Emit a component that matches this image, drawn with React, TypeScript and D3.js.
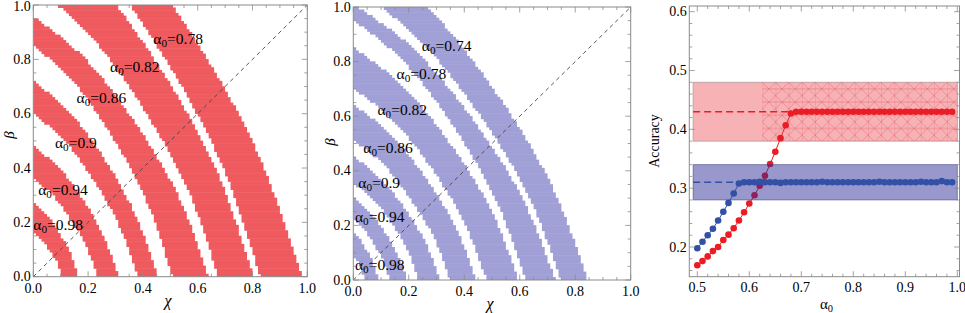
import React from 'react';
import * as d3 from 'd3';

// ---------- Panel 1 (red regions) : boundary points [chi, beta] ----------
const leftLabels = ['0.78', '0.82', '0.86', '0.9', '0.94', '0.98'];
const leftOuter: number[][][] = [
  [[0.98, 0], [0.818, 0.458], [0.562, 0.916], [0.273, 1.298], [0, 1.527]],
  [[0.803, 0], [0.671, 0.386], [0.46, 0.771], [0.224, 1.092], [0, 1.285]],
  [[0.639, 0], [0.534, 0.287], [0.366, 0.574], [0.178, 0.813], [0, 0.957]],
  [[0.453, 0], [0.378, 0.216], [0.26, 0.432], [0.126, 0.612], [0, 0.72]],
  [[0.31, 0], [0.259, 0.144], [0.178, 0.288], [0.086, 0.408], [0, 0.48]],
  [[0.164, 0], [0.137, 0.081], [0.094, 0.162], [0.046, 0.23], [0, 0.27]],
];
const leftInner: number[][][] = [
  [[0.828, 0], [0.691, 0.407], [0.474, 0.814], [0.231, 1.153], [0, 1.357]],
  [[0.675, 0], [0.564, 0.321], [0.387, 0.642], [0.188, 0.91], [0, 1.07]],
  [[0.507, 0], [0.423, 0.256], [0.291, 0.511], [0.141, 0.724], [0, 0.852]],
  [[0.38, 0], [0.317, 0.18], [0.218, 0.36], [0.106, 0.51], [0, 0.6]],
  [[0.234, 0], [0.195, 0.108], [0.134, 0.216], [0.065, 0.306], [0, 0.36]],
  [[0.106, 0], [0.089, 0.048], [0.061, 0.096], [0.03, 0.136], [0, 0.16]],
];
const leftLabelX = [0.438, 0.28, 0.158, 0.079, 0.018, 0.0];
const leftLabelY = [0.856, 0.754, 0.638, 0.473, 0.3, 0.172];

// ---------- Panel 2 (blue regions) ----------
const midLabels = ['0.74', '0.78', '0.82', '0.86', '0.9', '0.94', '0.98'];
const midOuter: number[][][] = [
  [[0.846, 0], [0.706, 0.364], [0.485, 0.728], [0.236, 1.032], [0, 1.214]],
  [[0.728, 0], [0.608, 0.303], [0.417, 0.606], [0.203, 0.859], [0, 1.01]],
  [[0.595, 0], [0.497, 0.255], [0.341, 0.51], [0.166, 0.723], [0, 0.85]],
  [[0.443, 0], [0.37, 0.192], [0.254, 0.384], [0.124, 0.544], [0, 0.64]],
  [[0.312, 0], [0.261, 0.135], [0.179, 0.27], [0.087, 0.383], [0, 0.45]],
  [[0.194, 0], [0.162, 0.09], [0.111, 0.18], [0.054, 0.255], [0, 0.3]],
  [[0.09, 0], [0.075, 0.051], [0.052, 0.102], [0.025, 0.145], [0, 0.17]],
];
const midInner: number[][][] = [
  [[0.75, 0], [0.626, 0.321], [0.43, 0.642], [0.209, 0.91], [0, 1.07]],
  [[0.62, 0], [0.518, 0.286], [0.355, 0.572], [0.173, 0.81], [0, 0.953]],
  [[0.48, 0], [0.401, 0.21], [0.275, 0.42], [0.134, 0.595], [0, 0.7]],
  [[0.35, 0], [0.292, 0.153], [0.2, 0.306], [0.098, 0.434], [0, 0.51]],
  [[0.235, 0], [0.196, 0.107], [0.135, 0.213], [0.066, 0.302], [0, 0.355]],
  [[0.13, 0], [0.109, 0.066], [0.074, 0.132], [0.036, 0.187], [0, 0.22]],
  [[0.04, 0], [0.033, 0.026], [0.023, 0.051], [0.011, 0.072], [0, 0.085]],
];
const midLabelX = [0.247, 0.156, 0.087, 0.036, 0.018, 0.006, 0.006];
const midLabelY = [0.837, 0.736, 0.605, 0.467, 0.336, 0.214, 0.037];

const unitTickLabels = ['0.0', '0.2', '0.4', '0.6', '0.8', '1.0'];

// ---------- Panel 3 (accuracy vs alpha0) ----------
const alpha0 = [
  0.5, 0.51, 0.52, 0.53, 0.54, 0.55, 0.56, 0.57, 0.58, 0.59,
  0.6, 0.61, 0.62, 0.63, 0.64, 0.65, 0.66, 0.67, 0.68, 0.69,
  0.7, 0.71, 0.72, 0.73, 0.74, 0.75, 0.76, 0.77, 0.78, 0.79,
  0.8, 0.81, 0.82, 0.83, 0.84, 0.85, 0.86, 0.87, 0.88, 0.89,
  0.9, 0.91, 0.92, 0.93, 0.94, 0.95, 0.96, 0.97, 0.98, 0.99,
];
const blueAcc = [
  0.198, 0.209, 0.22, 0.231, 0.245, 0.26, 0.275, 0.291, 0.308, 0.31,
  0.31, 0.31, 0.311, 0.31, 0.31, 0.31, 0.309, 0.31, 0.31, 0.31,
  0.31, 0.31, 0.31, 0.31, 0.311, 0.31, 0.31, 0.31, 0.31, 0.31,
  0.31, 0.31, 0.31, 0.31, 0.31, 0.311, 0.31, 0.31, 0.31, 0.31,
  0.31, 0.31, 0.31, 0.311, 0.31, 0.31, 0.31, 0.312, 0.31, 0.31,
];
const redAcc = [
  0.169, 0.176, 0.184, 0.193, 0.2, 0.212, 0.221, 0.232, 0.245, 0.259,
  0.274, 0.288, 0.304, 0.321, 0.341, 0.362, 0.385, 0.407, 0.427, 0.43,
  0.43, 0.43, 0.43, 0.43, 0.43, 0.43, 0.43, 0.43, 0.43, 0.43,
  0.43, 0.43, 0.43, 0.43, 0.43, 0.43, 0.43, 0.43, 0.43, 0.43,
  0.43, 0.43, 0.43, 0.43, 0.43, 0.43, 0.43, 0.43, 0.43, 0.43,
];
const redBand = [0.38, 0.48];
const blueBand = [0.28, 0.34];
const redMean = 0.43;
const blueMean = 0.31;
const bandStart = 0.492;
const hatchStart = 0.625;
const accXTicks = [0.5, 0.6, 0.7, 0.8, 0.9, 1.0];
const accXTickLabels = ['0.5', '0.6', '0.7', '0.8', '0.9', '1.0'];
const accYTicks = [0.2, 0.3, 0.4, 0.5, 0.6];
const accYTickLabels = ['0.2', '0.3', '0.4', '0.5', '0.6'];

const SERIF = '"Times New Roman", "Liberation Serif", Times, "DejaVu Serif", serif';
const FRAME = '#8a8a8a';
const GRID_N = 100; // raster resolution of the region plots

type Geo = { x0: number; x1: number; y0: number; y1: number };

// Samples a d3 curve (Catmull-Rom) through boundary points into a dense polyline
function densify(points: number[][]): number[][] {
  const out: number[][] = [];
  let cx = 0, cy = 0;
  const ctx: any = {
    moveTo(x: number, y: number) { out.push([x, y]); cx = x; cy = y; },
    lineTo(x: number, y: number) { out.push([x, y]); cx = x; cy = y; },
    bezierCurveTo(x1: number, y1: number, x2: number, y2: number, x: number, y: number) {
      for (let k = 1; k <= 24; k++) {
        const t = k / 24, u = 1 - t;
        out.push([
          u * u * u * cx + 3 * u * u * t * x1 + 3 * u * t * t * x2 + t * t * t * x,
          u * u * u * cy + 3 * u * u * t * y1 + 3 * u * t * t * y2 + t * t * t * y,
        ]);
      }
      cx = x; cy = y;
    },
    closePath() {},
  };
  d3.line<number[]>().x((d) => d[0]).y((d) => d[1]).curve(d3.curveCatmullRom.alpha(0.5)).context(ctx)(points);
  return out;
}

// x of a boundary curve at height y (curve runs from bottom intercept to left intercept)
function xAt(curve: number[][], y: number): number | null {
  const top = curve[curve.length - 1][1];
  if (y > top) return null;
  for (let i = 0; i < curve.length - 1; i++) {
    const a = curve[i], b = curve[i + 1];
    if ((a[1] <= y && b[1] >= y) || (a[1] >= y && b[1] <= y)) {
      const t = b[1] === a[1] ? 0 : (y - a[1]) / (b[1] - a[1]);
      return a[0] + t * (b[0] - a[0]);
    }
  }
  return null;
}

function Frame({ g, xs, ys, xMajor, xMinor, yMajor, yMinor, xLabels, yLabels, xLabOff = 15 }: any) {
  const els: any[] = [];
  const ML = 5.5, mL = 3;
  xMajor.forEach((v: number, i: number) => {
    const x = xs(v);
    els.push(<line key={'xb' + i} x1={x} x2={x} y1={g.y1} y2={g.y1 - ML} stroke={FRAME} />);
    els.push(<line key={'xt' + i} x1={x} x2={x} y1={g.y0} y2={g.y0 + ML} stroke={FRAME} />);
    els.push(
      <text key={'xl' + i} x={x} y={g.y1 + xLabOff} textAnchor="middle" fontSize={14} fontFamily={SERIF}>
        {xLabels[i]}
      </text>
    );
  });
  xMinor.forEach((v: number, i: number) => {
    const x = xs(v);
    els.push(<line key={'xmb' + i} x1={x} x2={x} y1={g.y1} y2={g.y1 - mL} stroke={FRAME} />);
    els.push(<line key={'xmt' + i} x1={x} x2={x} y1={g.y0} y2={g.y0 + mL} stroke={FRAME} />);
  });
  yMajor.forEach((v: number, i: number) => {
    const y = ys(v);
    els.push(<line key={'yl' + i} x1={g.x0} x2={g.x0 + ML} y1={y} y2={y} stroke={FRAME} />);
    els.push(<line key={'yr' + i} x1={g.x1} x2={g.x1 - ML} y1={y} y2={y} stroke={FRAME} />);
    els.push(
      <text key={'ylt' + i} x={g.x0 - 2.5} y={Math.max(y + 4.5, 11)} textAnchor="end" fontSize={14} fontFamily={SERIF}>
        {yLabels[i]}
      </text>
    );
  });
  yMinor.forEach((v: number, i: number) => {
    const y = ys(v);
    els.push(<line key={'yml' + i} x1={g.x0} x2={g.x0 + mL} y1={y} y2={y} stroke={FRAME} />);
    els.push(<line key={'ymr' + i} x1={g.x1} x2={g.x1 - mL} y1={y} y2={y} stroke={FRAME} />);
  });
  els.push(
    <rect key="fr" x={g.x0} y={g.y0} width={g.x1 - g.x0} height={g.y1 - g.y0} fill="none" stroke={FRAME} strokeWidth={1} />
  );
  return <g strokeWidth={0.8}>{els}</g>;
}

function AlphaLabel({ x, y, val, size = 15.5 }: any) {
  return (
    <text x={x} y={y} fontSize={size} fontFamily={SERIF} fill="#000">
      <tspan>α</tspan>
      <tspan fontSize={size * 0.72} dy={3}>0</tspan>
      <tspan dy={-3}>={val}</tspan>
    </text>
  );
}

function RegionPanel({ g, outer, inner, labels, lx, ly, fill, id, chiPos, betaPos, xLabOff }: any) {
  const xs = d3.scaleLinear().domain([0, 1]).range([g.x0, g.x1]);
  const ys = d3.scaleLinear().domain([0, 1]).range([g.y1, g.y0]);
  const cells: any[] = [];
  outer.forEach((o: number[][], b: number) => {
    const oc = densify(o);
    const ic = densify(inner[b]);
    for (let k = 0; k < GRID_N; k++) {
      const yc = (k + 0.5) / GRID_N;
      const xo = xAt(oc, yc);
      if (xo === null) continue;
      const xiRaw = xAt(ic, yc);
      const xi = xiRaw === null ? 0 : xiRaw;
      const c0 = Math.max(0, Math.ceil(xi * GRID_N - 0.5));
      const c1 = Math.min(GRID_N - 1, Math.floor(xo * GRID_N - 0.5));
      if (c1 < c0) continue;
      const px0 = xs(c0 / GRID_N), px1 = xs((c1 + 1) / GRID_N);
      const py0 = ys((k + 1) / GRID_N), py1 = ys(k / GRID_N);
      cells.push(
        <rect key={b + '-' + k} x={px0} y={py0 - 0.25} width={px1 - px0} height={py1 - py0 + 0.5} fill={fill} />
      );
    }
  });
  const majors = [0, 0.2, 0.4, 0.6, 0.8, 1.0];
  const minors = d3.range(0, 1.0001, 0.05).filter((v) => Math.abs(v * 5 - Math.round(v * 5)) > 1e-6);
  return (
    <g>
      <defs>
        <clipPath id={id}>
          <rect x={g.x0} y={g.y0} width={g.x1 - g.x0} height={g.y1 - g.y0} />
        </clipPath>
      </defs>
      <g clipPath={`url(#${id})`}>
        {cells}
        <line x1={xs(0)} y1={ys(0)} x2={xs(1)} y2={ys(1)} stroke="#444" strokeWidth={0.9} strokeDasharray="4,3.5" />
      </g>
      {labels.map((l: string, i: number) => (
        <AlphaLabel key={i} x={xs(lx[i])} y={ys(ly[i])} val={l} />
      ))}
      <Frame
        g={g}
        xs={xs}
        ys={ys}
        xMajor={majors}
        xMinor={minors}
        yMajor={majors}
        yMinor={minors}
        xLabels={unitTickLabels}
        yLabels={unitTickLabels}
        xLabOff={xLabOff}
      />
      <text x={chiPos[0]} y={chiPos[1]} fontSize={16} fontStyle="italic" fontFamily={SERIF} textAnchor="middle">
        χ
      </text>
      <text
        transform={`translate(${betaPos[0]},${betaPos[1]}) rotate(-90)`}
        fontSize={15}
        fontStyle="italic"
        fontFamily={SERIF}
        textAnchor="middle"
      >
        β
      </text>
    </g>
  );
}

function AccuracyPanel() {
  const g: Geo = { x0: 689.3, x1: 959.5, y0: 6, y1: 276.7 };
  const xs = d3.scaleLinear().domain([0.5, 1.0]).range([697.3, 957.3]);
  const ys = d3.scaleLinear().domain([0.2, 0.6]).range([247, 11.7]);
  const xMinor = d3.range(0.48, 1.005, 0.02).filter((v) => xs(v) > g.x0 + 0.5 && xs(v) < g.x1 - 0.5 && Math.abs(v * 10 - Math.round(v * 10)) > 1e-6);
  const yMinor = d3.range(0.14, 0.62, 0.02).filter((v) => ys(v) > g.y0 + 0.5 && ys(v) < g.y1 - 0.5 && Math.abs(v * 10 - Math.round(v * 10)) > 1e-6);
  const pts = alpha0.map((a, i) => ({ a, r: redAcc[i], b: blueAcc[i] }));
  const redLine = d3.line<any>().x((d) => xs(d.a)).y((d) => ys(d.r))(pts) as string;
  const blueLine = d3.line<any>().x((d) => xs(d.a)).y((d) => ys(d.b))(pts) as string;
  const redCol = '#ec1c24';
  const blueCol = '#3150a6';
  const rx0 = xs(bandStart), rx1 = xs(1.0);
  return (
    <g>
      <defs>
        <pattern id="hatch" patternUnits="userSpaceOnUse" width={13.2} height={13.2} x={xs(hatchStart)} y={ys(redBand[1])}>
          <path d="M0,0 L13.2,13.2 M13.2,0 L0,13.2 M0,0 V13.2 M0,6.6 H13.2" stroke="rgba(225,70,80,0.5)" strokeWidth={0.7} fill="none" />
        </pattern>
      </defs>
      <rect x={rx0} y={ys(redBand[1])} width={rx1 - rx0} height={ys(redBand[0]) - ys(redBand[1])} fill="#f7b2b6" stroke="#b9a0a2" strokeWidth={0.9} />
      <rect x={xs(hatchStart)} y={ys(redBand[1])} width={rx1 - xs(hatchStart)} height={ys(redBand[0]) - ys(redBand[1])} fill="url(#hatch)" />
      <line x1={rx0} x2={rx1} y1={ys(redMean)} y2={ys(redMean)} stroke={redCol} strokeWidth={1.5} strokeDasharray="7,4" />
      <path d={redLine} fill="none" stroke={redCol} strokeWidth={1} />
      {pts.map((d, i) => (
        <circle key={'r' + i} cx={xs(d.a)} cy={ys(d.r)} r={3.3} fill={redCol} />
      ))}
      <rect x={rx0} y={ys(blueBand[1])} width={rx1 - rx0} height={ys(blueBand[0]) - ys(blueBand[1])} fill="rgba(40,40,150,0.48)" stroke="rgba(60,60,120,0.6)" strokeWidth={0.9} />
      <line x1={rx0} x2={rx1} y1={ys(blueMean)} y2={ys(blueMean)} stroke={blueCol} strokeWidth={1.5} strokeDasharray="7,4" />
      <path d={blueLine} fill="none" stroke={blueCol} strokeWidth={1} />
      {pts.map((d, i) => (
        <circle key={'b' + i} cx={xs(d.a)} cy={ys(d.b)} r={3.3} fill={blueCol} />
      ))}
      <Frame
        g={g}
        xs={xs}
        ys={ys}
        xMajor={accXTicks}
        xMinor={xMinor}
        yMajor={accYTicks}
        yMinor={yMinor}
        xLabels={accXTickLabels}
        yLabels={accYTickLabels}
      />
      <text transform="translate(659,141) rotate(-90)" fontSize={14} fontFamily={SERIF} textAnchor="middle">
        Accuracy
      </text>
      <text x={820} y={309} fontSize={15} fontFamily={SERIF}>
        <tspan>α</tspan>
        <tspan fontSize={10.5} dy={3}>0</tspan>
      </text>
    </g>
  );
}

export default function App() {
  const leftG: Geo = { x0: 33.3, x1: 307.3, y0: 5, y1: 276.7 };
  const midG: Geo = { x0: 353.3, x1: 630.7, y0: 7, y1: 280 };
  return (
    <svg width={965} height={313} style={{ position: 'absolute', left: 0, top: 0, background: '#fff' }}>
      <rect width={965} height={313} fill="#fff" />
      <RegionPanel
        g={leftG}
        outer={leftOuter}
        inner={leftInner}
        labels={leftLabels}
        lx={leftLabelX}
        ly={leftLabelY}
        fill="#ef5a5f"
        id="clipL"
        chiPos={[168, 306]}
        betaPos={[14, 135]}
        xLabOff={16}
      />
      <RegionPanel
        g={midG}
        outer={midOuter}
        inner={midInner}
        labels={midLabels}
        lx={midLabelX}
        ly={midLabelY}
        fill="#a0a0d6"
        id="clipM"
        chiPos={[490, 309]}
        betaPos={[335, 142]}
        xLabOff={15.5}
      />
      <AccuracyPanel />
    </svg>
  );
}
